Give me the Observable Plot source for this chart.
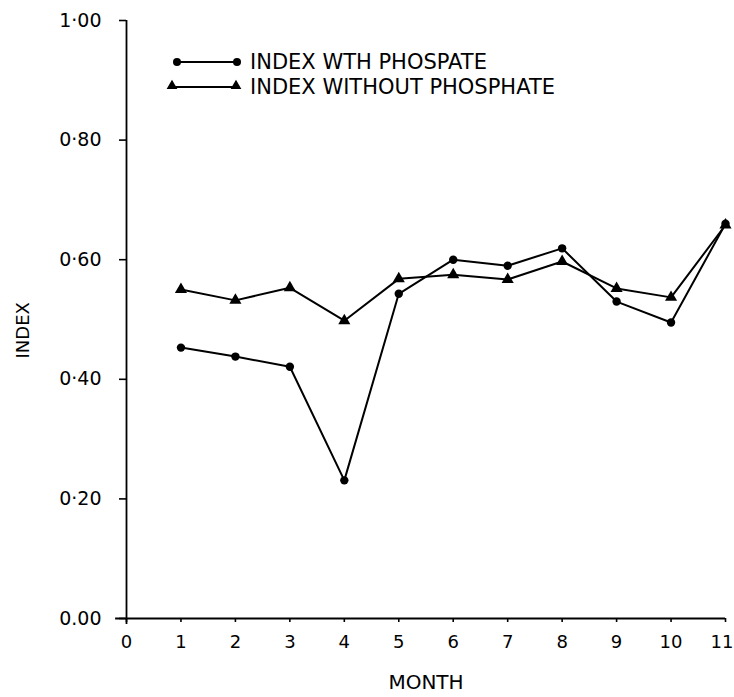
<!DOCTYPE html>
<html>
<head>
<meta charset="utf-8">
<script src="https://cdn.jsdelivr.net/npm/d3@7"></script>
<script src="https://cdn.jsdelivr.net/npm/@observablehq/plot@0.6"></script>
<style>
  body { margin: 0; background: #fff; }
  #wrap { position: relative; width: 734px; height: 697px; font-family: "DejaVu Sans", sans-serif; }
  #legend { position: absolute; left: 0; top: 0; }
</style>
</head>
<body>
<div id="wrap"></div>
<script>
const months = [1, 2, 3, 4, 5, 6, 7, 8, 9, 10, 11];
const withPhosphate = [0.453, 0.438, 0.421, 0.231, 0.543, 0.600, 0.590, 0.619, 0.530, 0.495, 0.660];
const withoutPhosphate = [0.550, 0.532, 0.553, 0.498, 0.568, 0.575, 0.567, 0.597, 0.552, 0.537, 0.658];
const seriesNames = ["INDEX WTH PHOSPATE", "INDEX WITHOUT PHOSPHATE"];
const xTicks = [0, 1, 2, 3, 4, 5, 6, 7, 8, 9, 10, 11];
const yTicks = [0, 0.2, 0.4, 0.6, 0.8, 1.0];
const yTickLabels = ["0.00", "0·20", "0·40", "0·60", "0·80", "1·00"];

const dataWith = months.map((m, i) => ({month: m, value: withPhosphate[i]}));
const dataWithout = months.map((m, i) => ({month: m, value: withoutPhosphate[i]}));
const lastTick = xTicks[xTicks.length - 1];

const font = "DejaVu Sans, sans-serif";

const chart = Plot.plot({
  width: 734,
  height: 697,
  marginLeft: 126,
  marginRight: 9,
  marginTop: 20,
  marginBottom: 79,
  style: {fontFamily: font, color: "#000", background: "#fff", fontSize: "19px"},
  x: {domain: [0, 11]},
  y: {domain: [0, 1]},
  marks: [
    Plot.axisY({ticks: yTicks, tickFormat: d => yTickLabels[yTicks.indexOf(d)], tickSize: 7, tickPadding: 18, fontSize: 19, label: null, strokeWidth: 1.6}),
    Plot.axisX({ticks: xTicks, tickFormat: d => d === lastTick ? "" : String(d), tickSize: 4, tickPadding: 13, fontSize: 18, label: null, strokeWidth: 1.6}),
    Plot.text([lastTick], {x: d => d, text: d => String(d), frameAnchor: "bottom", lineAnchor: "top", dy: 17, textAnchor: "end", dx: 8, fontSize: 18, fill: "#000"}),
    Plot.ruleX([0], {y1: -0.01, y2: 1, stroke: "#000", strokeWidth: 1.8}),
    Plot.ruleY([0], {x1: -0.2, x2: 11, stroke: "#000", strokeWidth: 1.8}),
    Plot.text(["MONTH"], {frameAnchor: "bottom", dy: 70, fontSize: 20, fill: "#000"}),
    Plot.text(["INDEX"], {frameAnchor: "left", rotate: -90, dx: -103, dy: 39, fontSize: 18, fill: "#000"}),
    Plot.line(dataWithout, {x: "month", y: "value", stroke: "#000", strokeWidth: 2}),
    Plot.dot(dataWithout, {x: "month", y: "value", symbol: "triangle", r: 4.5, fill: "#000", stroke: "none"}),
    Plot.line(dataWith, {x: "month", y: "value", stroke: "#000", strokeWidth: 2}),
    Plot.dot(dataWith, {x: "month", y: "value", symbol: "circle", r: 4.2, fill: "#000", stroke: "none"})
  ]
});

const wrap = document.getElementById("wrap");
wrap.appendChild(chart);

// Legend overlay
const ns = "http://www.w3.org/2000/svg";
const leg = document.createElementNS(ns, "svg");
leg.setAttribute("id", "legend");
leg.setAttribute("width", 734);
leg.setAttribute("height", 110);
const rows = [
  {name: seriesNames[0], sym: "circle", x1: 177, x2: 237, y: 62},
  {name: seriesNames[1], sym: "triangle", x1: 172, x2: 236, y: 87}
];
rows.forEach(r => {
  const l = document.createElementNS(ns, "line");
  l.setAttribute("x1", r.x1); l.setAttribute("x2", r.x2);
  l.setAttribute("y1", r.y); l.setAttribute("y2", r.y);
  l.setAttribute("stroke", "#000"); l.setAttribute("stroke-width", 1.8);
  leg.appendChild(l);
  [r.x1, r.x2].forEach(cx => {
    if (r.sym === "circle") {
      const c = document.createElementNS(ns, "circle");
      c.setAttribute("cx", cx); c.setAttribute("cy", r.y); c.setAttribute("r", 4);
      c.setAttribute("fill", "#000");
      leg.appendChild(c);
    } else {
      const p = document.createElementNS(ns, "path");
      p.setAttribute("d", d3.symbol(d3.symbolTriangle, 50)());
      p.setAttribute("transform", `translate(${cx},${r.y - 1})`);
      p.setAttribute("fill", "#000");
      leg.appendChild(p);
    }
  });
  const t = document.createElementNS(ns, "text");
  t.setAttribute("x", 250); t.setAttribute("y", r.y + 7);
  t.setAttribute("font-size", 21);
  t.setAttribute("font-family", font);
  t.textContent = r.name;
  leg.appendChild(t);
});
wrap.appendChild(leg);
</script>
</body>
</html>
